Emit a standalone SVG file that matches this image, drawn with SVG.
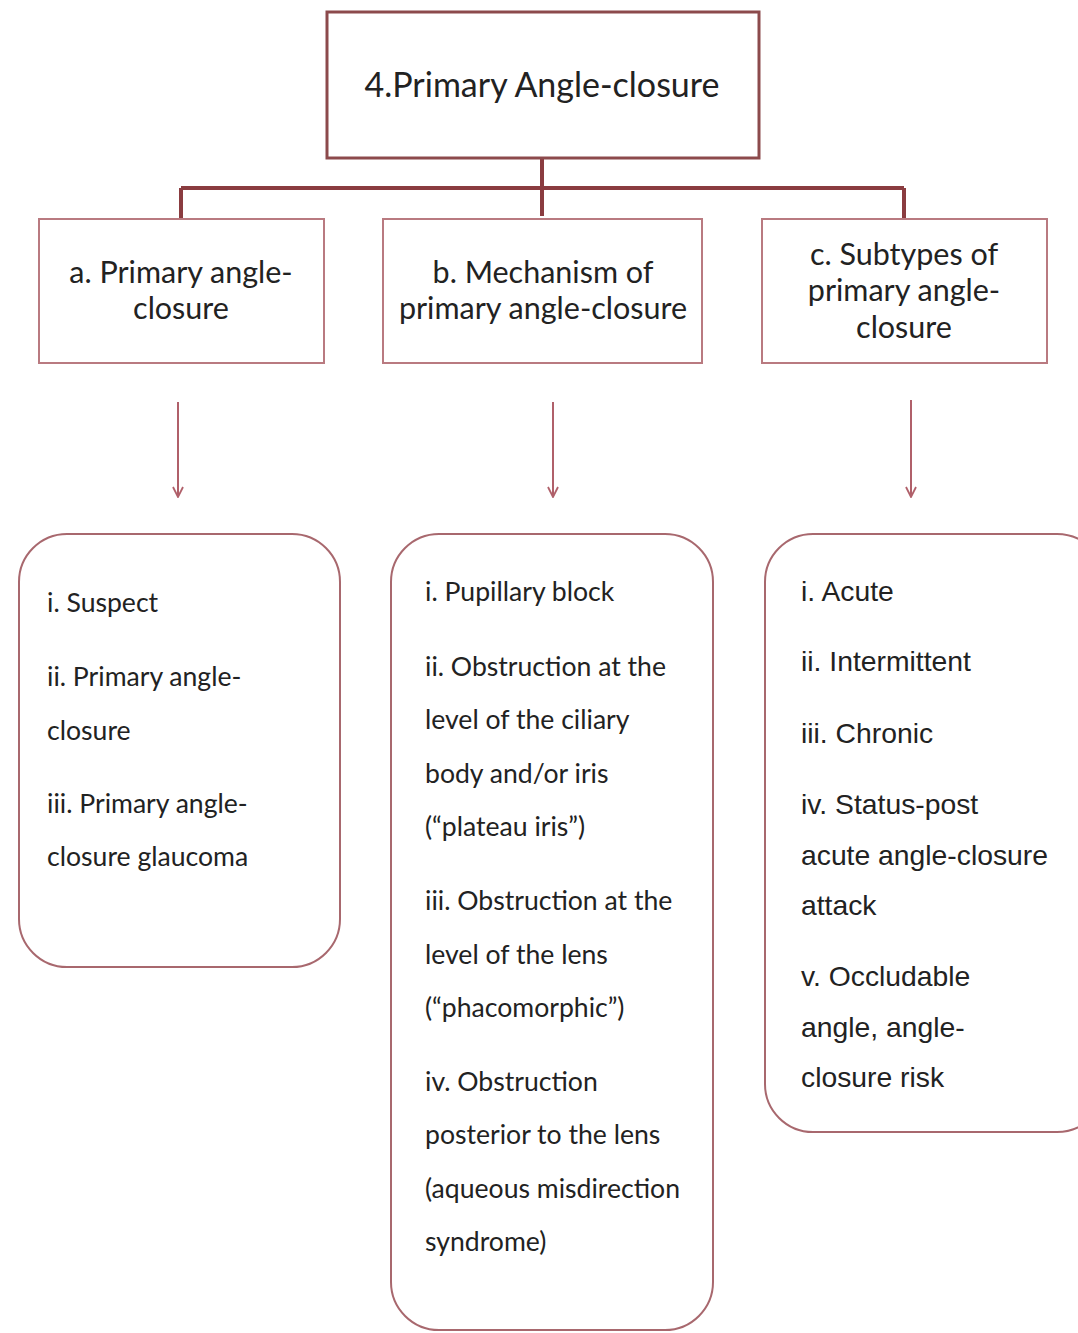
<svg xmlns="http://www.w3.org/2000/svg" width="1078" height="1333" viewBox="0 0 1078 1333">
  <defs>
    <!-- open V arrowhead, drawn along +x so orient="auto" follows the line -->
    <marker id="arrowhead" viewBox="0 0 12 12" refX="11" refY="6" markerWidth="12" markerHeight="12" markerUnits="userSpaceOnUse" orient="auto">
      <path d="M1,1 L11,6 L1,11" fill="none" stroke="#b0606a" stroke-width="1.8"/>
    </marker>
  </defs>
  <style>
    .box { fill: #ffffff; stroke: #b97a80; stroke-width: 2; }
    .top { fill: #ffffff; stroke: #8c4a4c; stroke-width: 3; }
    .list { fill: #ffffff; stroke: #a8686e; stroke-width: 2; }
    .tree { fill: none; stroke: #8a3c40; stroke-width: 4; }
    .arrow { fill: none; stroke: #b0606a; stroke-width: 2; }
    .h { font-family: Lato, "Open Sans", sans-serif; font-size: 30.5px; fill: #222; text-anchor: middle; }
    .title { font-size: 34px; }
    .t { font-family: Lato, "Open Sans", sans-serif; font-size: 26.6px; fill: #222; }
    .r { font-family: "Liberation Sans", Arial, sans-serif; font-size: 28.3px; fill: #222; }
  </style>
  <rect width="1078" height="1333" fill="#ffffff"/>

  <!-- tree and arrows -->
  <g id="connectors">
    <path class="tree" d="M542,158 V216 M181,188 H904 M181,188 V219 M904,188 V219"/>
    <line class="arrow" x1="178" y1="402" x2="178" y2="497" marker-end="url(#arrowhead)"/>
    <line class="arrow" x1="553" y1="402" x2="553" y2="497" marker-end="url(#arrowhead)"/>
    <line class="arrow" x1="911" y1="400" x2="911" y2="497" marker-end="url(#arrowhead)"/>
  </g>

  <g id="root">
    <rect class="top" x="327" y="12" width="432" height="146"/>
    <text class="h title" x="542" y="97">4.Primary Angle-closure</text>
  </g>

  <g id="node-a">
    <rect class="box" x="39" y="219" width="285" height="144"/>
    <text class="h" x="181" y="283">a. Primary angle-</text>
    <text class="h" x="181" y="319">closure</text>
  </g>

  <g id="node-b">
    <rect class="box" x="383" y="219" width="319" height="144"/>
    <text class="h" x="543" y="283">b. Mechanism of</text>
    <text class="h" x="543" y="319">primary angle-closure</text>
  </g>

  <g id="node-c">
    <rect class="box" x="762" y="219" width="285" height="144"/>
    <text class="h" x="904" y="265">c. Subtypes of</text>
    <text class="h" x="904" y="301">primary angle-</text>
    <text class="h" x="904" y="338">closure</text>
  </g>

  <g id="list-a">
    <rect class="list" x="19" y="534" width="321" height="433" rx="48" ry="48"/>
    <text class="t" x="47" y="612">i. Suspect</text>
    <text class="t" x="47" y="686">ii. Primary angle-</text>
    <text class="t" x="47" y="740">closure</text>
    <text class="t" x="47" y="813">iii. Primary angle-</text>
    <text class="t" x="47" y="866">closure glaucoma</text>
  </g>

  <g id="list-b">
    <rect class="list" x="391" y="534" width="322" height="796" rx="48" ry="48"/>
    <text class="t" x="425" y="601">i. Pupillary block</text>
    <text class="t" x="425" y="676">ii. Obstruction at the</text>
    <text class="t" x="425" y="729">level of the ciliary</text>
    <text class="t" x="425" y="783">body and/or iris</text>
    <text class="t" x="425" y="836">(“plateau iris”)</text>
    <text class="t" x="425" y="910">iii. Obstruction at the</text>
    <text class="t" x="425" y="964">level of the lens</text>
    <text class="t" x="425" y="1017">(“phacomorphic”)</text>
    <text class="t" x="425" y="1091">iv. Obstruction</text>
    <text class="t" x="425" y="1144">posterior to the lens</text>
    <text class="t" x="425" y="1198">(aqueous misdirection</text>
    <text class="t" x="425" y="1251">syndrome)</text>
  </g>

  <g id="list-c">
    <rect class="list" x="765" y="534" width="340" height="598" rx="48" ry="48"/>
    <text class="r" x="801" y="601">i. Acute</text>
    <text class="r" x="801" y="671">ii. Intermittent</text>
    <text class="r" x="801" y="743">iii. Chronic</text>
    <text class="r" x="801" y="814">iv. Status-post</text>
    <text class="r" x="801" y="865">acute angle-closure</text>
    <text class="r" x="801" y="915">attack</text>
    <text class="r" x="801" y="986">v. Occludable</text>
    <text class="r" x="801" y="1037">angle, angle-</text>
    <text class="r" x="801" y="1087">closure risk</text>
  </g>
</svg>
